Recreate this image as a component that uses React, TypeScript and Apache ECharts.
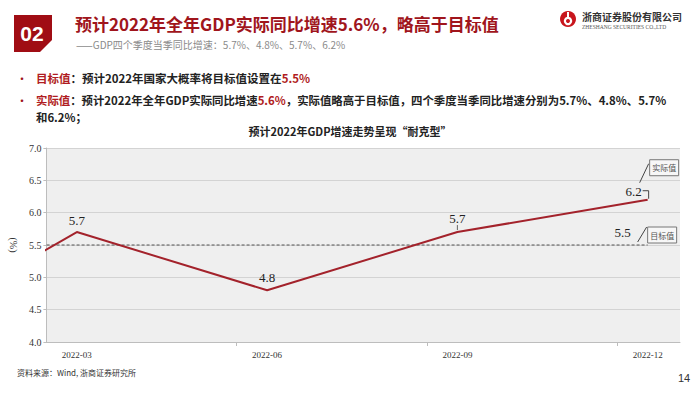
import React, { useEffect, useRef } from "react";
import * as echarts from "echarts";

// ---- data ----
const quarters = ["2021-12", "2022-03", "2022-06", "2022-09", "2022-12"];
const gdpGrowth = [4.0, 5.7, 4.8, 5.7, 6.2];
const targetValue = 5.5;
const yTicks = { min: 4.0, max: 7.0, step: 0.5 };
const shownLabels = ["2022-03", "2022-06", "2022-09", "2022-12"];

const title = "预计2022年全年GDP实际同比增速5.6%，略高于目标值";
const subtitle = "——GDP四个季度当季同比增速：5.7%、4.8%、5.7%、6.2%";
const chartTitle = "预计2022年GDP增速走势呈现“耐克型”";
const source = "资料来源：Wind, 浙商证券研究所";

const LINE_RED = "#a3222b";
const CJK = "'Noto Sans CJK SC', 'Noto Sans', sans-serif";
const SERIF = "'Liberation Serif', 'DejaVu Serif', serif";

export default function App() {
  const ref = useRef<HTMLDivElement>(null);
  useEffect(() => {
    document.body.style.margin = "0";
    const chart = echarts.init(ref.current!, null, { renderer: "svg" });
    const xIdx = (i: number) => i - 1;
    const last = quarters.length - 1;

    const labelOffsets: Record<number, number[]> = {
      1: [0, 1],
      2: [0, 0],
      3: [0, -1],
      4: [-14, 4],
    };
    const dataLabel = (offset: number[]) => ({
      show: true,
      position: "top",
      distance: 5,
      offset,
      formatter: (p: any) => Number(p.value[1]).toFixed(1),
      fontFamily: SERIF,
      fontSize: 13,
      color: "#222",
    });

    const actualData = gdpGrowth.map((v, i) => {
      const item: any = { value: [xIdx(i), v] };
      item.label = i > 0 ? dataLabel(labelOffsets[i]) : { show: false };
      return item;
    });
    const targetData = quarters.map((_, i) => {
      const item: any = { value: [xIdx(i), targetValue] };
      item.label = i === last ? dataLabel([-25, 0]) : { show: false };
      return item;
    });

    const option: any = {
      animation: false,
      backgroundColor: "#ffffff",
      grid: {
        left: 46,
        right: 20,
        top: 148,
        bottom: 52,
        show: true,
        backgroundColor: "#efefef",
        borderWidth: 0,
      },
      xAxis: {
        type: "value",
        min: -0.16,
        max: 3.17,
        splitLine: { show: false },
        axisLine: { show: true, onZero: false, lineStyle: { color: "#bdbdbd", width: 1 } },
        axisTick: {
          show: true,
          customValues: [0.84, 1.84, 2.84],
          length: 4,
          lineStyle: { color: "#bdbdbd" },
        },
        axisLabel: {
          customValues: [0, 1, 2, 3],
          formatter: (v: number) => shownLabels[Math.round(v)] ?? "",
          fontFamily: SERIF,
          fontSize: 9,
          color: "#333",
          margin: 8,
        },
      },
      yAxis: {
        type: "value",
        min: yTicks.min,
        max: yTicks.max,
        interval: yTicks.step,
        name: "(%)",
        nameLocation: "middle",
        nameGap: 24,
        nameRotate: -90,
        nameTextStyle: { fontFamily: SERIF, fontSize: 10, color: "#333" },
        axisLine: { show: true, onZero: false, lineStyle: { color: "#bdbdbd", width: 1 } },
        axisTick: { show: true, length: 3, lineStyle: { color: "#bdbdbd" } },
        axisLabel: {
          formatter: (v: number) => v.toFixed(1),
          fontFamily: SERIF,
          fontSize: 10,
          color: "#333",
          margin: 5,
        },
        splitLine: { show: true, lineStyle: { color: "#d3d3d3", width: 1 } },
      },
      series: [
        {
          name: "目标值",
          type: "line",
          symbol: "circle",
          symbolSize: 2,
          showSymbol: true,
          showAllSymbol: true,
          itemStyle: { color: "rgba(0,0,0,0)", borderWidth: 0 },
          label: { show: false },
          data: targetData,
          lineStyle: { color: "#555", width: 1.2, type: [3, 2] },
          z: 2,
          silent: true,
          emphasis: { disabled: true },
        },
        {
          name: "实际值",
          type: "line",
          symbol: "circle",
          symbolSize: 2,
          showSymbol: true,
          showAllSymbol: true,
          itemStyle: { color: "rgba(0,0,0,0)", borderWidth: 0 },
          label: { show: false },
          data: actualData,
          lineStyle: { color: LINE_RED, width: 2 },
          z: 3,
          silent: true,
          emphasis: { disabled: true },
        },
      ],
    };

    chart.setOption(option);

    const pA = chart.convertToPixel({ gridIndex: 0 }, [xIdx(last), gdpGrowth[last]]) as number[];
    const pT = chart.convertToPixel({ gridIndex: 0 }, [xIdx(last), targetValue]) as number[];
    const p3 = chart.convertToPixel({ gridIndex: 0 }, [xIdx(3), gdpGrowth[3]]) as number[];

    const box = (x: number, y: number, text: string) => ({
      type: "group",
      children: [
        {
          type: "rect",
          shape: { x, y, width: 29, height: 16 },
          style: { fill: "#f7f7f7", stroke: "#777", lineWidth: 1 },
        },
        {
          type: "text",
          x: x + 14.5,
          y: y + 8,
          style: {
            text,
            fontSize: 8,
            fontFamily: CJK,
            fill: "#555",
            align: "center",
            verticalAlign: "middle",
          },
        },
      ],
    });

    const graphic: any[] = [
      // header badge
      {
        type: "polygon",
        shape: { points: [[14, 15], [52, 15], [52, 40], [40, 52], [14, 52]] },
        style: { fill: "#a00d14" },
      },
      {
        type: "text",
        x: 32,
        y: 33,
        style: {
          text: "02",
          fontSize: 21,
          fontWeight: "bold",
          fontFamily: "'Liberation Sans', Arial, sans-serif",
          fill: "#fff",
          align: "center",
          verticalAlign: "middle",
        },
      },
      {
        type: "text",
        x: 75,
        y: 23,
        style: {
          text: title,
          fontSize: 17,
          fontWeight: "bold",
          fontFamily: CJK,
          fill: "#a0151c",
          verticalAlign: "middle",
        },
      },
      {
        type: "text",
        x: 76,
        y: 44,
        style: {
          text: subtitle,
          fontSize: 10,
          fontFamily: CJK,
          fill: "#8a8a8a",
          verticalAlign: "middle",
        },
      },
      // logo
      { type: "circle", shape: { cx: 568, cy: 19, r: 8 }, style: { fill: "#c8161d" } },
      { type: "circle", shape: { cx: 568, cy: 21, r: 4.2 }, style: { fill: "#fff" } },
      { type: "circle", shape: { cx: 568, cy: 21, r: 2 }, style: { fill: "#c8161d" } },
      { type: "rect", shape: { x: 567, y: 12, width: 2, height: 6 }, style: { fill: "#fff" } },
      {
        type: "text",
        x: 582,
        y: 16,
        style: {
          text: "浙商证券股份有限公司",
          fontSize: 10,
          fontWeight: "bold",
          fontFamily: CJK,
          fill: "#333",
          verticalAlign: "middle",
        },
      },
      {
        type: "text",
        x: 582,
        y: 27,
        style: {
          text: "ZHESHANG SECURITIES CO.,LTD",
          fontSize: 5.5,
          fontFamily: SERIF,
          fill: "#555",
          verticalAlign: "middle",
        },
      },
      // bullets
      {
        type: "text",
        x: 16,
        y: 78,
        style: { text: "•", fontSize: 12, fill: "#a0151c", verticalAlign: "middle", fontFamily: CJK },
      },
      {
        type: "text",
        x: 36,
        y: 78,
        style: {
          text: "{r|目标值}{b|：预计2022年国家大概率将目标值设置在}{r|5.5%}",
          verticalAlign: "middle",
          rich: {
            r: { fontSize: 11.5, fontWeight: "bold", fontFamily: CJK, fill: "#b01c22" },
            b: { fontSize: 11.5, fontWeight: "bold", fontFamily: CJK, fill: "#222" },
          },
        },
      },
      {
        type: "text",
        x: 16,
        y: 100,
        style: { text: "•", fontSize: 12, fill: "#a0151c", verticalAlign: "middle", fontFamily: CJK },
      },
      {
        type: "text",
        x: 36,
        y: 100,
        style: {
          text:
            "{r|实际值}{b|：预计2022年全年GDP实际同比增速}{r|5.6%}{b|，实际值略高于目标值，四个季度当季同比增速分别为5.7%、4.8%、5.7%}",
          verticalAlign: "middle",
          rich: {
            r: { fontSize: 11.4, fontWeight: "bold", fontFamily: CJK, fill: "#b01c22" },
            b: { fontSize: 11.4, fontWeight: "bold", fontFamily: CJK, fill: "#222" },
          },
        },
      },
      {
        type: "text",
        x: 36,
        y: 117,
        style: {
          text: "和6.2%；",
          fontSize: 11.4,
          fontWeight: "bold",
          fontFamily: CJK,
          fill: "#222",
          verticalAlign: "middle",
        },
      },
      {
        type: "text",
        x: 350,
        y: 131,
        style: {
          text: chartTitle,
          fontSize: 11,
          fontWeight: "bold",
          fontFamily: CJK,
          fill: "#222",
          align: "center",
          verticalAlign: "middle",
        },
      },
      // annotations
      {
        type: "polyline",
        shape: { points: [[pA[0] - 5, pA[1] - 9], [pA[0] + 1, pA[1] - 9], [pA[0] + 1, pA[1] - 1]] },
        style: { stroke: "#444", lineWidth: 1, fill: null },
      },
      {
        type: "line",
        shape: { x1: p3[0], y1: p3[1] - 7, x2: p3[0], y2: p3[1] - 2 },
        style: { stroke: "#666", lineWidth: 1 },
      },
      {
        type: "line",
        shape: { x1: pA[0] - 8, y1: pA[1] - 17, x2: pA[0] + 1, y2: pA[1] - 36 },
        style: { stroke: "#444", lineWidth: 1 },
      },
      box(pA[0] + 2, pA[1] - 40, "实际值"),
      {
        type: "line",
        shape: { x1: pT[0] - 10, y1: pT[1] - 3, x2: pT[0] - 1, y2: pT[1] - 18 },
        style: { stroke: "#444", lineWidth: 1 },
      },
      box(pT[0], pT[1] - 18, "目标值"),
      // footer
      {
        type: "text",
        x: 17,
        y: 372,
        style: {
          text: source,
          fontSize: 8,
          fontFamily: CJK,
          fill: "#333",
          verticalAlign: "middle",
        },
      },
      {
        type: "text",
        x: 684,
        y: 378,
        style: {
          text: "14",
          fontSize: 11,
          fontFamily: "'Liberation Sans', Arial, sans-serif",
          fill: "#333",
          align: "center",
          verticalAlign: "middle",
        },
      },
    ];
    chart.setOption({ graphic });

    return () => chart.dispose();
  }, []);

  return (
    <div
      ref={ref}
      style={{ position: "fixed", left: 0, top: 0, width: 700, height: 394 }}
    />
  );
}
